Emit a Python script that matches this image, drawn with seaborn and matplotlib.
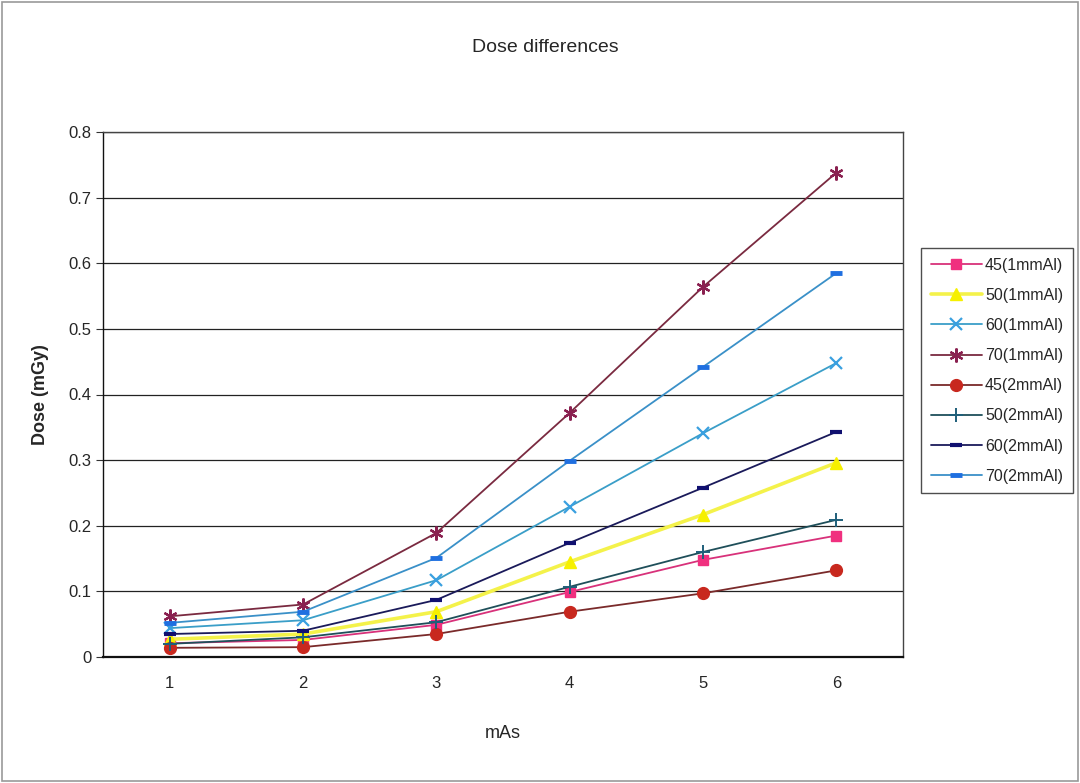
import numpy as np
import pandas as pd
import matplotlib
matplotlib.use("Agg")
import matplotlib.pyplot as plt
import seaborn as sns
from matplotlib.patches import Rectangle
from matplotlib.ticker import FuncFormatter

mas = [1, 2, 3, 4, 5, 6]
s45_1 = [0.021, 0.026, 0.049, 0.099, 0.148, 0.185]
s50_1 = [0.027, 0.035, 0.069, 0.145, 0.217, 0.296]
s60_1 = [0.044, 0.056, 0.117, 0.229, 0.341, 0.448]
s70_1 = [0.062, 0.080, 0.189, 0.372, 0.564, 0.738]
s45_2 = [0.014, 0.015, 0.035, 0.069, 0.097, 0.132]
s50_2 = [0.020, 0.030, 0.053, 0.107, 0.160, 0.209]
s60_2 = [0.035, 0.040, 0.087, 0.174, 0.258, 0.343]
s70_2 = [0.052, 0.069, 0.151, 0.299, 0.442, 0.585]

labels = ["45(1mmAl)", "50(1mmAl)", "60(1mmAl)", "70(1mmAl)",
          "45(2mmAl)", "50(2mmAl)", "60(2mmAl)", "70(2mmAl)"]
series = [s45_1, s50_1, s60_1, s70_1, s45_2, s50_2, s60_2, s70_2]

# line colour, marker colour, marker, marker size, edge width, line width
styles = [
    ("#d8317a", "#f0307f", "s", 7.5, 1.0, 1.3),
    ("#f4f24a", "#f6f000", "^", 8, 1.0, 2.6),
    ("#3a9ec8", "#3aa0e0", "x", 9, 1.6, 1.3),
    ("#7a2a40", "#8a2050", (6, 2, 0), 10, 1.6, 1.3),
    ("#7a2a2a", "#c8281e", "o", 8.5, 1.0, 1.3),
    ("#1f4f5a", "#1f5f7a", "+", 10, 1.4, 1.3),
    ("#1a1a5a", "#101070", "_", 8, 3.0, 1.3),
    ("#3a90c8", "#1f6fe0", "_", 9, 3.5, 1.3),
]

sns.set_style("white")
plt.rcParams['font.family'] = ['Liberation Sans', 'DejaVu Sans']

fig = plt.figure(figsize=(10.8, 7.83), dpi=100)
ax = fig.add_axes([103 / 1080, 1 - 657 / 783, 800 / 1080, 525 / 783])

for lab, vals, (lc, mc, mk, ms, mew, lw) in zip(labels, series, styles):
    sns.lineplot(x=mas, y=vals, ax=ax, color=lc, linewidth=lw, label=lab,
                 marker=mk, markersize=ms, markerfacecolor=mc,
                 markeredgecolor=mc, markeredgewidth=mew, legend=False)

ax.set_xlim(0.5, 6.5)
ax.set_ylim(0, 0.8)
ax.set_yticks(np.arange(0, 0.81, 0.1))
ax.yaxis.set_major_formatter(FuncFormatter(lambda v, p: "0" if abs(v) < 1e-9 else f"{v:.1f}"))
ax.set_xticks(mas)
ax.set_xticks(np.arange(0.5, 6.6, 1), minor=True)
ax.tick_params(axis="x", which="major", length=0, labelsize=12, pad=14)
ax.tick_params(axis="x", which="minor", length=5, color="#333333", direction="out")
ax.tick_params(axis="y", which="major", length=5, labelsize=12, color="#333333", direction="out", left=True)
ax.grid(axis="y", color="#222222", linewidth=0.9)
for sp in ax.spines.values():
    sp.set_color("#444444")
    sp.set_linewidth(1.0)
ax.spines["left"].set_color("#111111")
ax.spines["bottom"].set_color("#111111")
ax.spines["bottom"].set_linewidth(1.6)

ax.set_xlabel("mAs", fontsize=13, labelpad=24)
ax.set_ylabel("Dose (mGy)", fontsize=13, fontweight="bold", labelpad=14)
fig.text(0.505, 1 - 47 / 783, "Dose differences", fontsize=14, ha="center", va="center")

handles, labs = ax.get_legend_handles_labels()
leg = fig.legend(handles, labs, loc="upper left", bbox_to_anchor=(921 / 1080, 1 - 248 / 783),
                 fontsize=11.5, frameon=True, fancybox=False, edgecolor="#222222",
                 handlelength=3.2, handletextpad=0.2, labelspacing=0.95, borderpad=0.6,
                 borderaxespad=0)
leg.get_frame().set_linewidth(1.0)

fig.patches.append(Rectangle((0.002, 0.003), 0.996, 0.994, transform=fig.transFigure,
                             fill=False, edgecolor="#999999", linewidth=1.2))

fig.savefig("out.png", dpi=100)
